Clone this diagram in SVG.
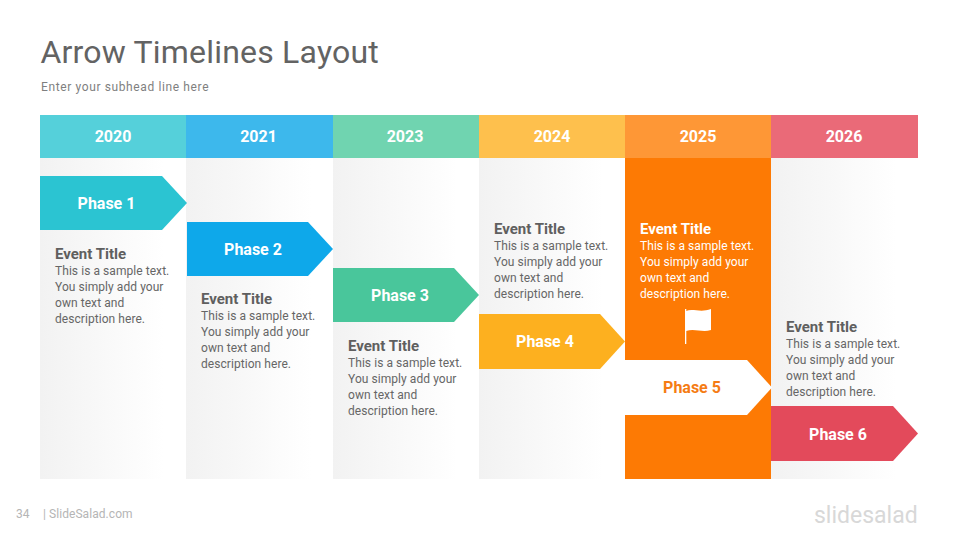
<svg xmlns="http://www.w3.org/2000/svg" width="960" height="540" viewBox="0 0 960 540">
<defs>
<linearGradient id="col" x1="0" y1="0" x2="1" y2="0"><stop offset="0" stop-color="#f2f2f2"/><stop offset=".85" stop-color="#ffffff"/></linearGradient>
</defs>
<style>
text{font-family:Roboto,"Liberation Sans",sans-serif}
.yr{font-size:16px;font-weight:700;fill:#fff;text-anchor:middle}
.ph{font-size:16px;font-weight:700;fill:#fff;text-anchor:middle}
.et{font-size:15px;font-weight:700;fill:#5f5f5f}
.bd{font-size:12px;fill:#666;letter-spacing:.06px}
.col{fill:url(#col)}
</style>
<rect width="960" height="540" fill="#fff"/>
<text id="title" x="40.500" y="63" font-size="32" fill="#636363" letter-spacing=".2">Arrow Timelines Layout</text>
<text id="subhead" x="41" y="91" font-size="12" fill="#7f7f7f" letter-spacing=".62">Enter your subhead line here</text>
<g id="columns">
<rect class="col" x="40" y="158" width="146" height="321"/>
<rect class="col" x="186" y="158" width="147" height="321"/>
<rect class="col" x="333" y="158" width="146" height="321"/>
<rect class="col" x="479" y="158" width="146" height="321"/>
<rect x="625" y="158" width="146" height="321" fill="#fd7a04"/>
<rect class="col" x="771" y="158" width="147" height="321"/>
</g>
<g id="year-2020"><rect x="40" y="115" width="146" height="43" fill="#55d0da"/><text class="yr" x="113" y="141.500">2020</text></g>
<g id="year-2021"><rect x="186" y="115" width="147" height="43" fill="#3db8ec"/><text class="yr" x="258.500" y="141.500">2021</text></g>
<g id="year-2023"><rect x="333" y="115" width="146" height="43" fill="#70d4b0"/><text class="yr" x="405" y="141.500">2023</text></g>
<g id="year-2024"><rect x="479" y="115" width="146" height="43" fill="#fec04d"/><text class="yr" x="552" y="141.500">2024</text></g>
<g id="year-2025"><rect x="625" y="115" width="146" height="43" fill="#fe9736"/><text class="yr" x="698" y="141.500">2025</text></g>
<g id="year-2026"><rect x="771" y="115" width="147" height="43" fill="#ea6a78"/><text class="yr" x="844" y="141.500">2026</text></g>
<g id="phase-1"><path d="M40 176H162L187 203L162 230H40Z" fill="#2bc4d2"/><text class="ph" x="106.500" y="208.500">Phase 1</text></g>
<g id="phase-2"><path d="M187 222H308L333 249L308 276H187Z" fill="#0ea8ea"/><text class="ph" x="253" y="254.500">Phase 2</text></g>
<g id="phase-3"><path d="M333 268H454L479 295L454 322H333Z" fill="#49c69b"/><text class="ph" x="400" y="300.500">Phase 3</text></g>
<g id="phase-4"><path d="M479 314H600L625 341.500L600 369H479Z" fill="#fdb01f"/><text class="ph" x="545" y="346.500">Phase 4</text></g>
<g id="phase-5"><path d="M625 360H747L772 387.500L747 415H625Z" fill="#fff"/><text class="ph" x="692" y="392.500" style="fill:#f57c14">Phase 5</text></g>
<g id="phase-6"><path d="M771 406H893L918 433.500L893 461H771Z" fill="#e34a5b"/><text class="ph" x="838" y="439.500">Phase 6</text></g>
<g id="event-1"><text class="et" x="55" y="259">Event Title</text><text class="bd" x="55" y="275">This is a sample text.</text><text class="bd" x="55" y="291">You simply add your</text><text class="bd" x="55" y="307">own text and</text><text class="bd" x="55" y="323">description here.</text></g>
<g id="event-2"><text class="et" x="201" y="303.500">Event Title</text><text class="bd" x="201" y="320">This is a sample text.</text><text class="bd" x="201" y="336">You simply add your</text><text class="bd" x="201" y="352">own text and</text><text class="bd" x="201" y="368">description here.</text></g>
<g id="event-3"><text class="et" x="348" y="350.500">Event Title</text><text class="bd" x="348" y="367">This is a sample text.</text><text class="bd" x="348" y="383">You simply add your</text><text class="bd" x="348" y="399">own text and</text><text class="bd" x="348" y="415">description here.</text></g>
<g id="event-4"><text class="et" x="494" y="233.500">Event Title</text><text class="bd" x="494" y="250">This is a sample text.</text><text class="bd" x="494" y="266">You simply add your</text><text class="bd" x="494" y="282">own text and</text><text class="bd" x="494" y="298">description here.</text></g>
<g id="event-5"><text class="et" x="640" y="233.500" style="fill:#fff">Event Title</text><text class="bd" x="640" y="250" style="fill:#fff">This is a sample text.</text><text class="bd" x="640" y="266" style="fill:#fff">You simply add your</text><text class="bd" x="640" y="282" style="fill:#fff">own text and</text><text class="bd" x="640" y="298" style="fill:#fff">description here.</text></g>
<g id="event-6"><text class="et" x="786" y="331.500">Event Title</text><text class="bd" x="786" y="348">This is a sample text.</text><text class="bd" x="786" y="364">You simply add your</text><text class="bd" x="786" y="380">own text and</text><text class="bd" x="786" y="396">description here.</text></g>
<g id="flag"><rect x="685" y="309" width="1.300" height="35" fill="#fff"/><path d="M686 311C693 308 700 313 711 309V330C702 333 695 328 686 331Z" fill="#fff"/></g>
<g id="footer"><text x="16" y="518" font-size="12" fill="#b5b5b5">34</text><text x="43" y="518" font-size="12" fill="#b5b5b5" letter-spacing=".06">| SlideSalad.com</text><text x="814" y="523" font-size="23" fill="#d8d8d8">slidesalad</text></g>
</svg>
